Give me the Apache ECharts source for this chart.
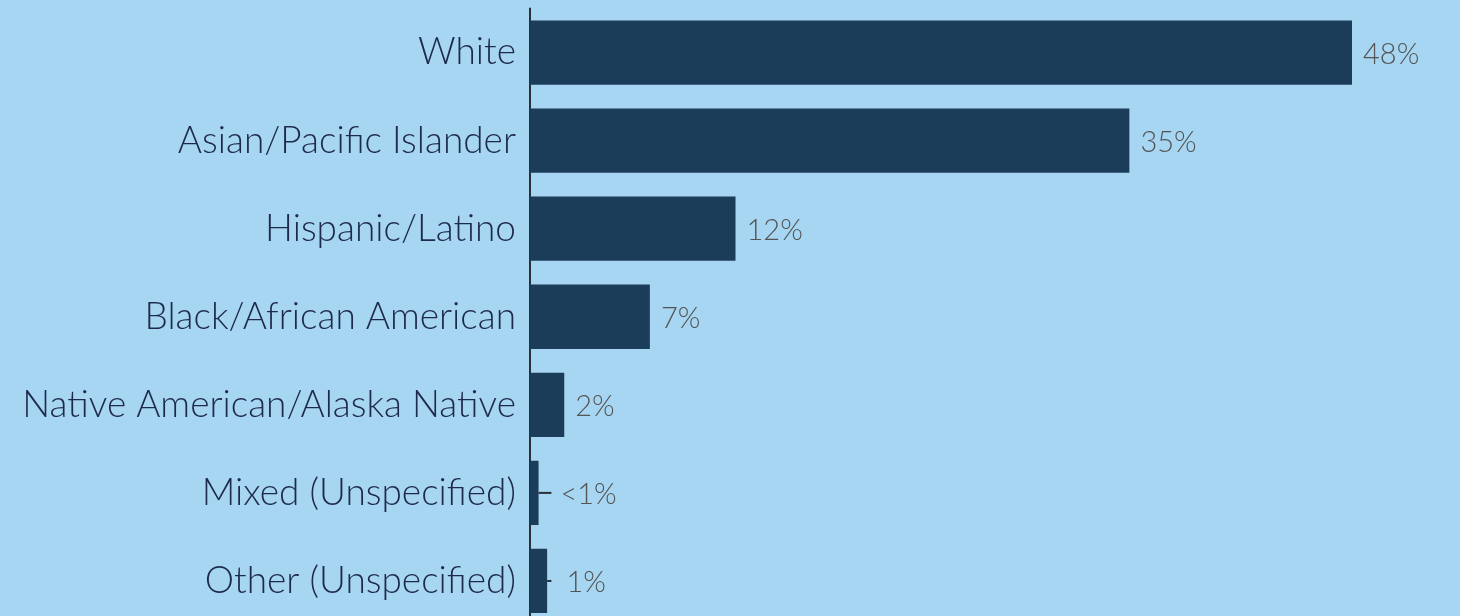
<!DOCTYPE html>
<html>
<head>
<meta charset="utf-8">
<script src="https://cdn.jsdelivr.net/npm/echarts@6/dist/echarts.min.js"></script>
<style>
  html, body { margin: 0; padding: 0; background: #a7d6f2; overflow: hidden; }
  /* the plot runs off the bottom edge, so the canvas is a little taller than the view */
  #chart { width: 1460px; height: 625px; }
</style>
</head>
<body>
<div id="chart"></div>
<script>
// Share of respondents by race/ethnicity (percent)
const categories = [
  'White',
  'Asian/Pacific Islander',
  'Hispanic/Latino',
  'Black/African American',
  'Native American/Alaska Native',
  'Mixed (Unspecified)',
  'Other (Unspecified)'
];
const values = [48, 35, 12, 7, 2, 0.5, 1];
const valueLabels = ['48%', '35%', '12%', '7%', '2%', '<1%', '1%'];

// Bars shorter than this get a short leader line out to it before the label
const LEADER_END = 1.25;

const FONT = 'Lato';
const chart = echarts.init(document.getElementById('chart'));

const leaderData = values.map((v, i) => [v, i]);

chart.setOption({
  backgroundColor: '#a7d6f2',
  animation: false,
  grid: { left: 530, right: 108, top: 8.5, bottom: 0, containLabel: false },
  xAxis: { type: 'value', min: 0, max: 48, show: false },
  yAxis: {
    type: 'category',
    data: categories,
    inverse: true,
    axisLine: { show: true, lineStyle: { color: '#2b2f36', width: 2 } },
    axisTick: { show: false },
    axisLabel: {
      margin: 14,
      fontFamily: FONT, fontWeight: 300, fontSize: 37, color: '#1e2a4d'
    }
  },
  series: [
    {
      type: 'bar',
      data: values,
      barCategoryGap: '27%',
      itemStyle: { color: '#1c3d5a' },
      label: {
        show: true, position: 'right', distance: 11, offset: [0, 2],
        fontFamily: FONT, fontWeight: 300, fontSize: 29, color: '#545454',
        formatter: p => (values[p.dataIndex] < LEADER_END ? '' : valueLabels[p.dataIndex])
      },
      z: 2
    },
    {
      type: 'custom',
      data: leaderData,
      z: 3,
      renderItem: function (params, api) {
        const v = api.value(0);
        const idx = api.value(1);
        if (v >= LEADER_END) return null;
        const a = api.coord([v, idx]);
        const b = api.coord([LEADER_END, idx]);
        const text = valueLabels[params.dataIndex];
        return {
          type: 'group',
          children: [
            {
              type: 'line',
              shape: { x1: a[0], y1: a[1], x2: b[0], y2: b[1] },
              style: { stroke: '#2b2f36', lineWidth: 2 }
            },
            {
              type: 'text',
              x: b[0] + (text.length > 2 ? 9 : 15), y: a[1] + 2,
              style: {
                text: text, fontFamily: FONT, fontWeight: 300, fontSize: 29,
                fill: '#545454', verticalAlign: 'middle', align: 'left'
              }
            }
          ]
        };
      }
    }
  ]
});
</script>
</body>
</html>
